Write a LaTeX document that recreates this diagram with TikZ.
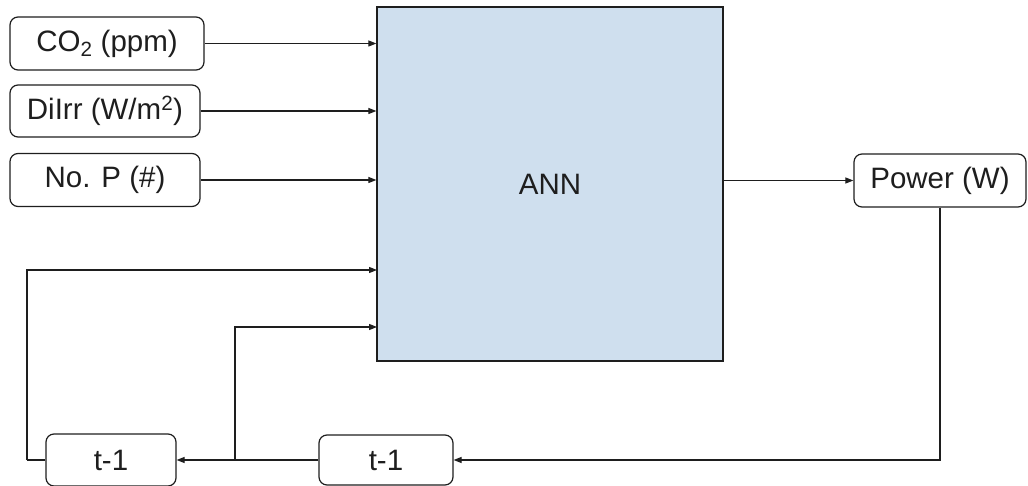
\documentclass[tikz,border=0pt]{standalone}
\usepackage{fontspec}
\setmainfont{Liberation Sans}
\usetikzlibrary{arrows.meta}
\definecolor{annblue}{RGB}{207,223,238}
\definecolor{ink}{RGB}{30,30,30}
\tikzset{
  rbox/.style={draw=ink, line width=1.2pt, rounded corners=8pt, fill=white, inner sep=0pt, text=ink, font=\fontsize{29.5}{34}\selectfont},
  arr/.style={draw=ink, line width=1.1pt, -{Triangle[length=8pt,width=6pt]}},
  ln/.style={draw=ink, line width=1.1pt}
}
\begin{document}
\begin{tikzpicture}[x=1pt,y=-1pt]
\useasboundingbox (0,0) rectangle (1028,486);
\node[rbox, minimum width=194pt, minimum height=53pt] (co2) at (107,43.5) {CO\textsubscript{2} (ppm)};
\node[rbox, minimum width=190pt, minimum height=52pt] (dil) at (105,111) {DiIrr (W/m\textsuperscript{2})};
\node[rbox, minimum width=190pt, minimum height=53pt] (nop) at (105,180) {No. P (\#)};
\node[draw=ink, line width=1.3pt, fill=annblue, minimum width=346pt, minimum height=354pt, inner sep=0pt, text=ink, font=\fontsize{29.5}{34}\selectfont] (ann) at (550,184) {ANN};
\node[rbox, minimum width=172pt, minimum height=53pt] (pow) at (940,180.5) {Power (W)};
\node[rbox, minimum width=130pt, minimum height=52pt] (ta) at (111,460) {t-1};
\node[rbox, minimum width=134pt, minimum height=50pt] (tb) at (386,460) {t-1};
\coordinate (br) at (235,460);
\coordinate (lc) at (27,460);
\coordinate (in4) at (377,270);
\coordinate (in5) at (377,327);
\draw[arr] (co2.east) -- (co2.east -| ann.west);
\draw[arr] (dil.east) -- (dil.east -| ann.west);
\draw[arr] (nop.east) -- (nop.east -| ann.west);
\draw[arr] (pow.west -| ann.east) -- (pow.west);
\draw[arr] (pow.south) |- (tb.east);
\draw[arr] (tb.west) -- (ta.east);
\draw[arr] (br) |- (in5);
\draw[ln] (ta.west) -- (lc);
\draw[arr] (lc) |- (in4);
\end{tikzpicture}
\end{document}
